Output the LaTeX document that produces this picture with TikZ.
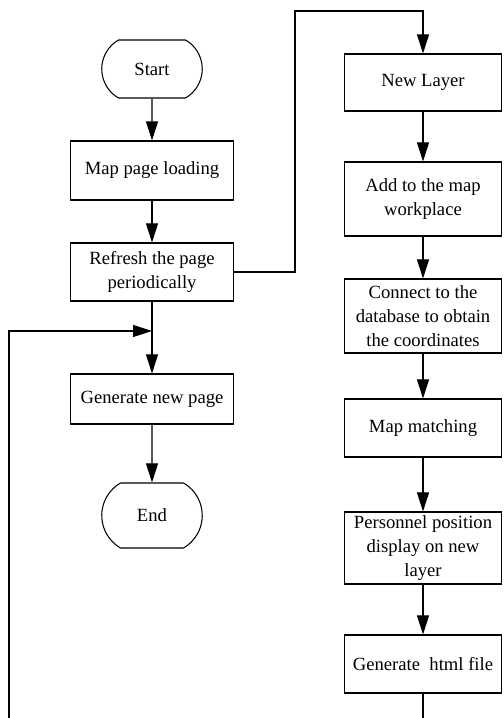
\documentclass[tikz,border=0pt]{standalone}
\usepackage{fontspec}
\setmainfont{Liberation Serif}
\usepackage{tikz}
\usetikzlibrary{calc}
\usetikzlibrary{shapes.misc}
\usetikzlibrary{arrows.meta}
\tikzset{
  procbox/.style={draw, line width=0.6pt, rectangle, align=center, inner sep=1pt, font=\fontsize{10.6}{13.6}\selectfont},
  termbox/.style={draw, line width=0.6pt, rounded rectangle, rounded rectangle arc length=120, minimum width=2.08cm, inner sep=1pt, font=\fontsize{10.6}{13.6}\selectfont},
  flowarrow/.style={line width=0.6pt, -{Triangle[length=3.8mm,width=2.4mm]}}
}
\newcommand{\procnode}[6]{\node[procbox, minimum width=#4cm, minimum height=#5cm] (#1) at ( #2 , #3 ) {#6};}
\newcommand{\termnode}[5]{\node[termbox, minimum height=#4cm] (#1) at ( #2 , #3 ) {#5};}

\begin{document}
\begin{tikzpicture}
        \useasboundingbox (0,0) rectangle (10.06,14.36);
        \clip (0,0) rectangle (10.06,14.36);

        % left column
        \termnode{start}{3.04}{12.98}{1.16}{Start}
        \procnode{map}{3.04}{10.95}{3.26}{1.18}{Map page loading}
        \procnode{refresh}{3.04}{8.92}{3.26}{1.16}{Refresh the page\\periodically}
        \procnode{gennew}{3.04}{6.38}{3.26}{1.0}{Generate new page}
        \termnode{end}{3.04}{4.05}{1.3}{End}

        % right column
        \procnode{newlayer}{8.46}{12.71}{3.14}{1.14}{New Layer}
        \procnode{add}{8.46}{10.38}{3.14}{1.48}{Add to the map\\workplace}
        \procnode{connect}{8.46}{8.04}{3.14}{1.48}{Connect to the\\database to obtain\\the coordinates}
        \procnode{mapmatch}{8.46}{5.80}{3.14}{1.16}{Map matching}
        \procnode{personnel}{8.46}{3.40}{3.14}{1.44}{Personnel position\\display on new\\layer}
        \procnode{genhtml}{8.46}{1.08}{3.14}{1.16}{Generate~ html file}

        % corners of the connectors
        \coordinate (top) at (5.90,14.14);
        \coordinate (join) at (3.04,7.74);
        \coordinate (loopbot) at (0.18,-0.5);

        \draw[flowarrow] (start) -- (map);
        \draw[flowarrow] (map) -- (refresh);
        \draw[flowarrow] (refresh) -- (gennew);
        \draw[flowarrow] (gennew) -- (end);

        \draw[flowarrow] (refresh.east) -| (top) -| (newlayer.north);
        \draw[flowarrow] (newlayer) -- (add);
        \draw[flowarrow] (add) -- (connect);
        \draw[flowarrow] (connect) -- (mapmatch);
        \draw[flowarrow] (mapmatch) -- (personnel);
        \draw[flowarrow] (personnel) -- (genhtml);

        % back to the left column
        \draw[flowarrow] (genhtml.south) |- (loopbot) |- (join);
    \end{tikzpicture}
\end{document}
